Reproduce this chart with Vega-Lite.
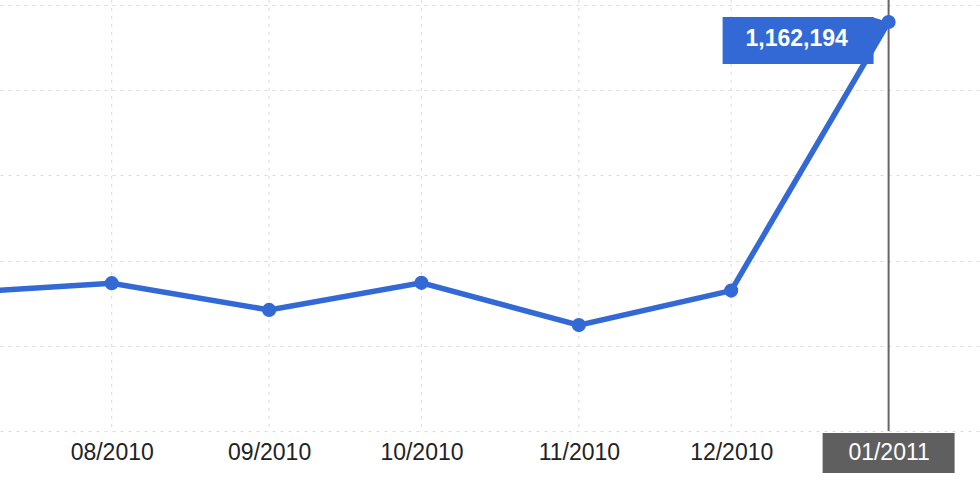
{
  "$schema": "https://vega.github.io/schema/vega-lite/v6.json",
  "width": 980,
  "height": 431,
  "autosize": {"type": "none"},
  "padding": {"left": 0, "top": 0, "right": 0, "bottom": 59},
  "background": "white",
  "config": {"view": {"stroke": null}, "font": "Liberation Sans"},
  "data": {
    "values": [
      {"month": "2010-07-01", "value": 392000},
      {"month": "2010-08-01", "value": 420000},
      {"month": "2010-09-01", "value": 344000},
      {"month": "2010-10-01", "value": 421000},
      {"month": "2010-11-01", "value": 301000},
      {"month": "2010-12-01", "value": 399000},
      {"month": "2011-01-01", "value": 1162194}
    ]
  },
  "encoding": {
    "x": {
      "field": "month",
      "type": "temporal",
      "scale": {
        "type": "utc",
        "domain": [
          {"year": 2010, "month": 7, "date": 10, "utc": true},
          {"year": 2011, "month": 1, "date": 19, "utc": true}
        ],
        "nice": false
      },
      "axis": {
        "title": null,
        "grid": false,
        "domain": false,
        "ticks": false,
        "format": "%m/%Y",
        "tickCount": {"interval": "month", "step": 1},
        "labelFontSize": 23,
        "labelFont": "Liberation Sans",
        "labelPadding": 10,
        "labelColor": {"condition": {"test": "utcmonth(datum.value) == 0", "value": "#ffffff"}, "value": "#222222"},
        "zindex": 1
      }
    }
  },
  "layer": [
    {
      "transform": [{"filter": "datum.value < 1000000"}],
      "mark": {"type": "rule", "color": "#dcdcdc", "strokeWidth": 1, "strokeDash": [3, 5]},
      "encoding": {}
    },
    {
      "transform": [{"filter": "datum.value > 1000000"}],
      "mark": {"type": "rule", "color": "#666666", "strokeWidth": 2},
      "encoding": {}
    },
    {
      "mark": {"type": "line", "color": "#3369d5", "strokeWidth": 5.5, "clip": true},
      "encoding": {
        "y": {
          "field": "value",
          "type": "quantitative",
          "scale": {"domain": [0, 1224700], "nice": false, "zero": false},
          "axis": {
            "title": null,
            "labels": false,
            "ticks": false,
            "domain": false,
            "grid": true,
            "gridColor": "#dcdcdc",
            "gridDash": [3, 5],
            "gridWidth": 1,
            "values": [0, 242100, 484200, 726300, 968400, 1210500]
          }
        }
      }
    },
    {
      "mark": {"type": "circle", "color": "#3369d5", "size": 200, "opacity": 1, "clip": true},
      "encoding": {"y": {"field": "value", "type": "quantitative"}}
    },
    {
      "transform": [{"filter": "datum.value > 1000000"}],
      "mark": {"type": "rect", "color": "#3369d5", "xOffset": -166, "x2Offset": -15, "yOffset": -5, "y2Offset": 42},
      "encoding": {
        "x2": {"field": "month"},
        "y": {"field": "value", "type": "quantitative"},
        "y2": {"field": "value"}
      }
    },
    {
      "transform": [{"filter": "datum.value > 1000000"}],
      "mark": {"type": "point", "filled": true, "opacity": 1, "color": "#3369d5", "shape": "M -0.6 -0.18 L 0 0 L -0.6 1 Z", "size": 3136},
      "encoding": {"y": {"field": "value", "type": "quantitative"}}
    },
    {
      "transform": [{"filter": "datum.value > 1000000"}],
      "mark": {"type": "text", "color": "#ffffff", "font": "Liberation Sans", "fontSize": 23, "fontWeight": "bold", "align": "center", "baseline": "middle", "dx": -92, "dy": 17},
      "encoding": {
        "y": {"field": "value", "type": "quantitative"},
        "text": {"field": "value", "type": "quantitative", "format": ","}
      }
    },
    {
      "transform": [{"filter": "datum.value > 1000000"}],
      "mark": {"type": "rect", "color": "#5f5f5f", "xOffset": -66, "x2Offset": 66, "yOffset": 2, "y2Offset": 42},
      "encoding": {
        "x2": {"field": "month"},
        "y": {"datum": 0, "type": "quantitative"},
        "y2": {"datum": 0}
      }
    }
  ]
}
